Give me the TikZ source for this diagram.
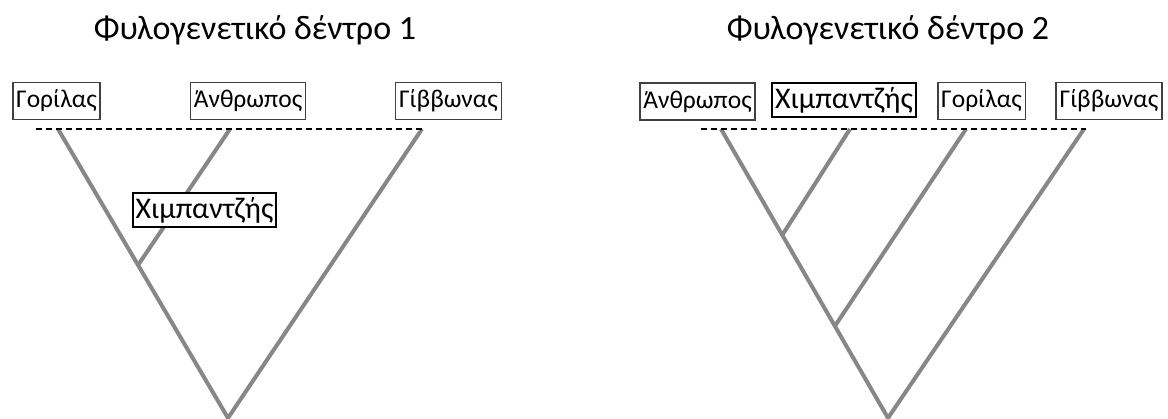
\documentclass[tikz,border=0pt]{standalone}
\usepackage{fontspec}
\setmainfont{Carlito}
\usetikzlibrary{positioning,calc}

\begin{document}
\begin{tikzpicture}[x=1pt, y=-1pt,
	taxon/.style={rectangle, draw=black!75, line width=1.6pt, inner xsep=3.5pt, inner ysep=1pt, minimum height=37pt, font=\fontsize{25.5}{28}\selectfont},
	chimpbox/.style={taxon, draw=black, line width=2.2pt, inner xsep=3pt, minimum height=34pt, font=\fontsize{30}{32}\selectfont},
	branch/.style={draw=black!47, line width=4pt},
	tipline/.style={draw=black, line width=1.5pt, dash pattern=on 6pt off 4pt},
	treetitle/.style={font=\fontsize{34}{38}\selectfont}]
	\useasboundingbox (0,0) rectangle (1168,419);

	% tree 1
	\node (title1) [treetitle] at (255,30) {Φυλογενετικό δέντρο 1};
	\coordinate (root1) at (228,418);
	\coordinate (tipgor1) at (58,129);
	\coordinate (tiphum1) at (230,129);
	\coordinate (tipgib1) at (422,129);
	\coordinate (join1) at ($(root1)!0.529!(tipgor1)$);
	\draw[branch] (tipgor1) -- (root1) -- (tipgib1);
	\draw[branch] (join1) -- (tiphum1);
	\draw[tipline] (36,129) coordinate (dashA1) -- (424,129) coordinate (dashB1);
	\node (gorilla1) [taxon] at (56.5,101) {Γορίλας};
	\node (human1) [taxon] at (248,101) {Άνθρωπος};
	\node (gibbon1) [taxon] at (448.5,101) {Γίββωνας};
	\node (chimp1) [chimpbox, fill=white] at (204.5,210) {Χιμπαντζής};

	% tree 2
	\node (title2) [treetitle] at (888,30) {Φυλογενετικό δέντρο 2};
	\coordinate (root2) at (888,418);
	\coordinate (tiphum2) at (721,129);
	\coordinate (tipchi2) at (850,129);
	\coordinate (tipgor2) at (966,129);
	\coordinate (tipgib2) at (1084,129);
	\coordinate (joinA2) at ($(root2)!0.633!(tiphum2)$);
	\coordinate (joinB2) at ($(root2)!0.318!(tiphum2)$);
	\draw[branch] (tiphum2) -- (root2) -- (tipgib2);
	\draw[branch] (joinA2) -- (tipchi2);
	\draw[branch] (joinB2) -- (tipgor2);
	\draw[tipline] (701,129) coordinate (dashA2) -- (1086,129) coordinate (dashB2);
	\node (human2) [taxon] at (697.5,101.5) {Άνθρωπος};
	\node (chimp2) [chimpbox] at (844,100) {Χιμπαντζής};
	\node (gorilla2) [taxon] at (981.5,101) {Γορίλας};
	\node (gibbon2) [taxon] at (1109,101) {Γίββωνας};
\end{tikzpicture}
\end{document}
